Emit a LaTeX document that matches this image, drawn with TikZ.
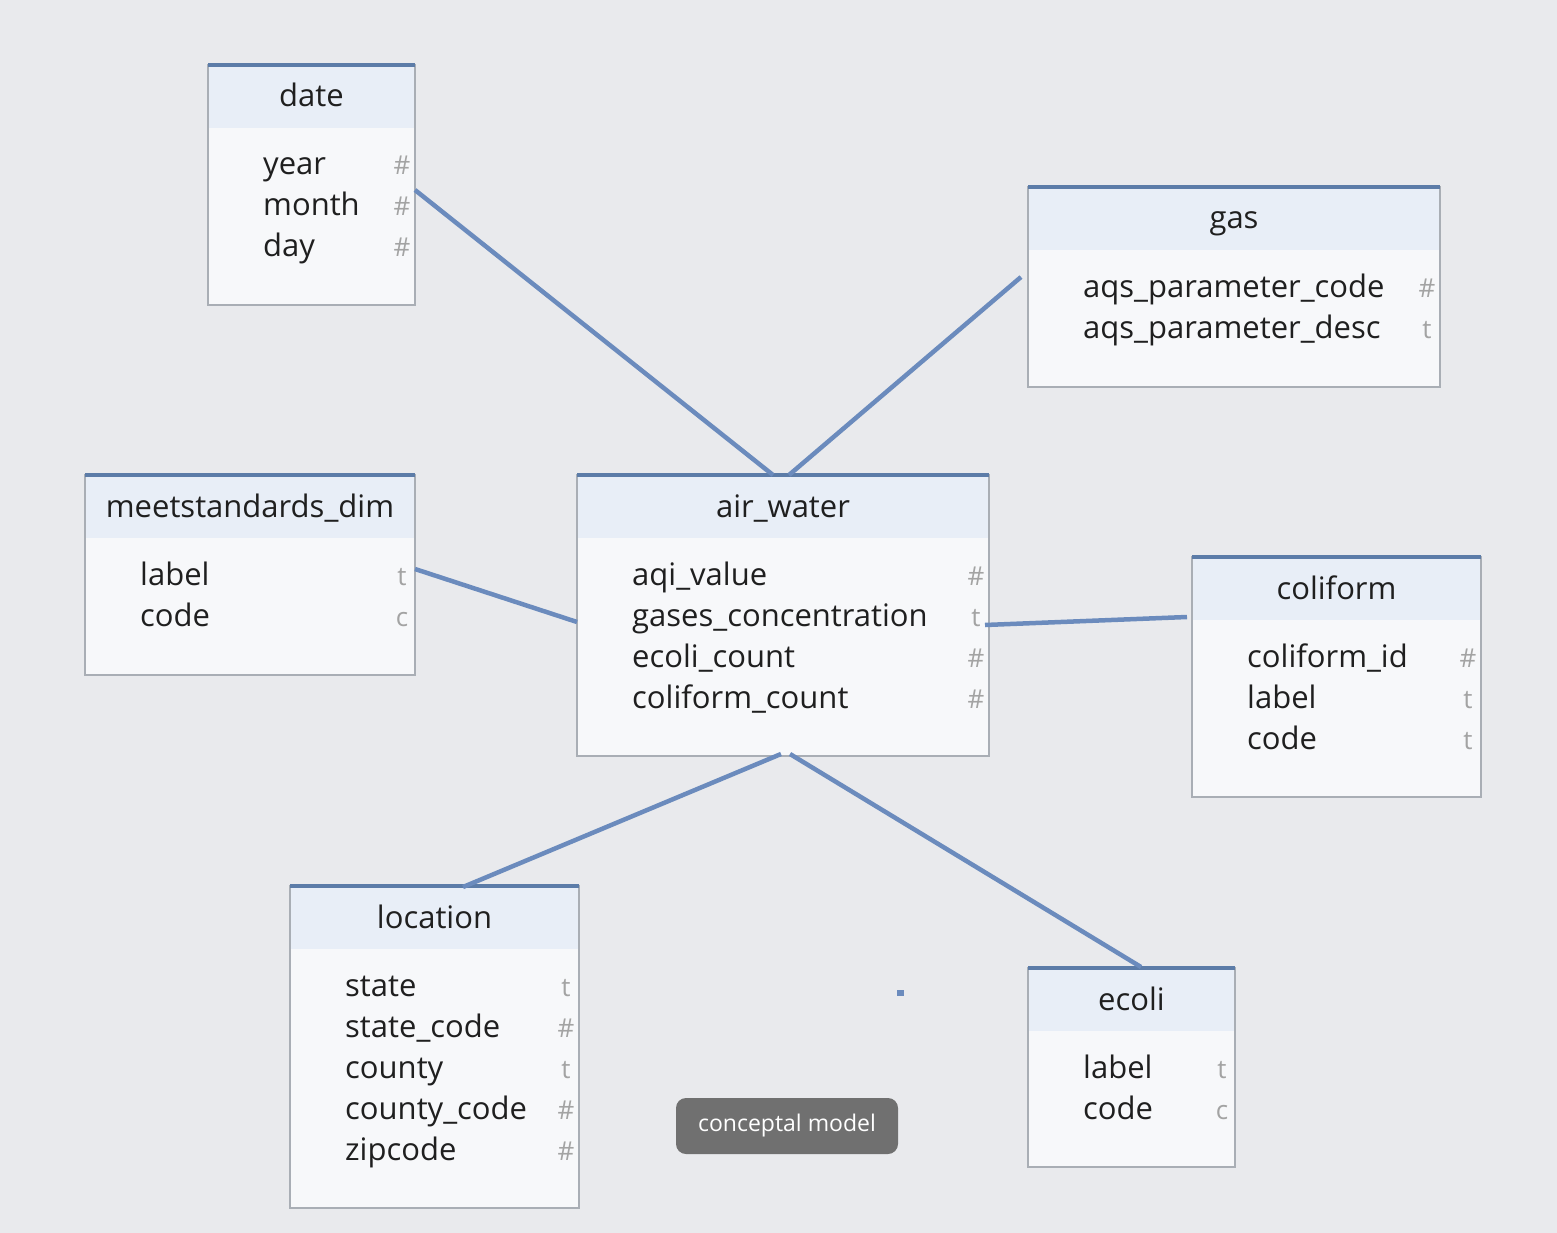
\documentclass[tikz,border=0pt]{standalone}
\usepackage{fontspec}
\setmainfont{Open Sans}
\usetikzlibrary{calc}

\definecolor{bgcol}{HTML}{E9EAED}
\definecolor{boxfill}{HTML}{F7F8FA}
\definecolor{hdrcol}{HTML}{E8EEF7}
\definecolor{bordercol}{HTML}{A9AEB5}
\definecolor{barcol}{HTML}{5C7CA8}
\definecolor{linkcol}{HTML}{6B8BBD}
\definecolor{typecol}{HTML}{A3A3A3}
\definecolor{textcol}{HTML}{1F1F1F}
\definecolor{badgecol}{HTML}{707070}

\tikzset{
  tblbox/.style={fill=boxfill, draw=none, inner sep=0pt, outer sep=0pt},
  hdrfill/.style={fill=hdrcol},
  tblborder/.style={draw=bordercol, line width=1.6pt},
  topbar/.style={draw=barcol, line width=4pt},
  titletext/.style={anchor=base, inner sep=0pt, text=textcol, font=\fontsize{31}{36}\selectfont},
  fieldtext/.style={anchor=base west, inner sep=0pt, text=textcol, font=\fontsize{31}{36}\selectfont},
  typetext/.style={anchor=base, inner sep=0pt, text=typecol, font=\fontsize{26}{30}\selectfont},
  link/.style={draw=linkcol, line width=4.5pt},
  badge/.style={fill=badgecol, rounded corners=10pt, text=white, minimum width=222pt,
                minimum height=56pt, inner sep=0pt, font=\fontsize{23}{28}\selectfont},
}

\newcommand\hs{\#}
% entity table: name, x, y, width, height, title, field/type list
\newcommand\ertable[7]{%
  \node[tblbox, minimum width=#4, minimum height=#5, anchor=north west] (#1) at (#2,#3) {};
  \fill[hdrfill] (#1.north west) rectangle ($(#1.north east)+(0,63)$);
  \draw[tblborder] (#1.north west) rectangle (#1.south east);
  \draw[topbar] (#1.north west) -- (#1.north east);
  \node[titletext] (#1-title) at ($(#1.north)+(0,42)$) {#6};
  \foreach \f/\m [count=\i] in {#7} {
    \node[fieldtext] (#1-f\i) at ($(#1.north west)+(55,69+41*\i)$) {\f};
    \node[typetext] (#1-t\i) at ($(#1.north east)+(-13,69+41*\i)$) {\m};
  }%
}

\begin{document}
\begin{tikzpicture}[x=1pt, y=-1pt]
  \fill[bgcol] (0,0) rectangle (1557,1233);
  \useasboundingbox (0,0) rectangle (1557,1233);

  \ertable{date}{208}{65}{207}{240}{date}{year/\hs, month/\hs, day/\hs}
  \ertable{gas}{1028}{187}{412}{200}{gas}{aqs\_parameter\_code/\hs, aqs\_parameter\_desc/t}
  \ertable{meet}{85}{475}{330}{200}{meetstandards\_dim}{label/t, code/c}
  \ertable{aw}{577}{475}{412}{281}{air\_water}{aqi\_value/\hs, gases\_concentration/t, ecoli\_count/\hs, coliform\_count/\hs}
  \ertable{coli}{1192}{557}{289}{240}{coliform}{coliform\_id/\hs, label/t, code/t}
  \ertable{loc}{290}{886}{289}{322}{location}{state/t, state\_code/\hs, county/t, county\_code/\hs, zipcode/\hs}
  \ertable{eco}{1028}{968}{207}{199}{ecoli}{label/t, code/c}

  % relationships
  \draw[link] ($(date.north east)+(0,125)$) -- ($(aw.north west)+(196,0)$);
  \draw[link] ($(gas.north west)+(-7,90)$) -- ($(aw.north west)+(212,0)$);
  \draw[link] ($(meet.north east)+(0,94)$) -- ($(aw.north west)+(0,147)$);
  \draw[link] ($(aw.north east)+(-4,150)$) -- ($(coli.north west)+(-5,60)$);
  \draw[link] ($(loc.north west)+(173,1)$) -- ($(aw.south west)+(204,-2)$);
  \draw[link] ($(aw.south west)+(213,-2)$) -- ($(eco.north west)+(113,-1)$);

  \node[fill=linkcol, minimum width=7pt, minimum height=6pt, inner sep=0pt] (dot) at (900,993) {};
  \node[badge] (cm) at (787,1126) {conceptal model};
\end{tikzpicture}
\end{document}
